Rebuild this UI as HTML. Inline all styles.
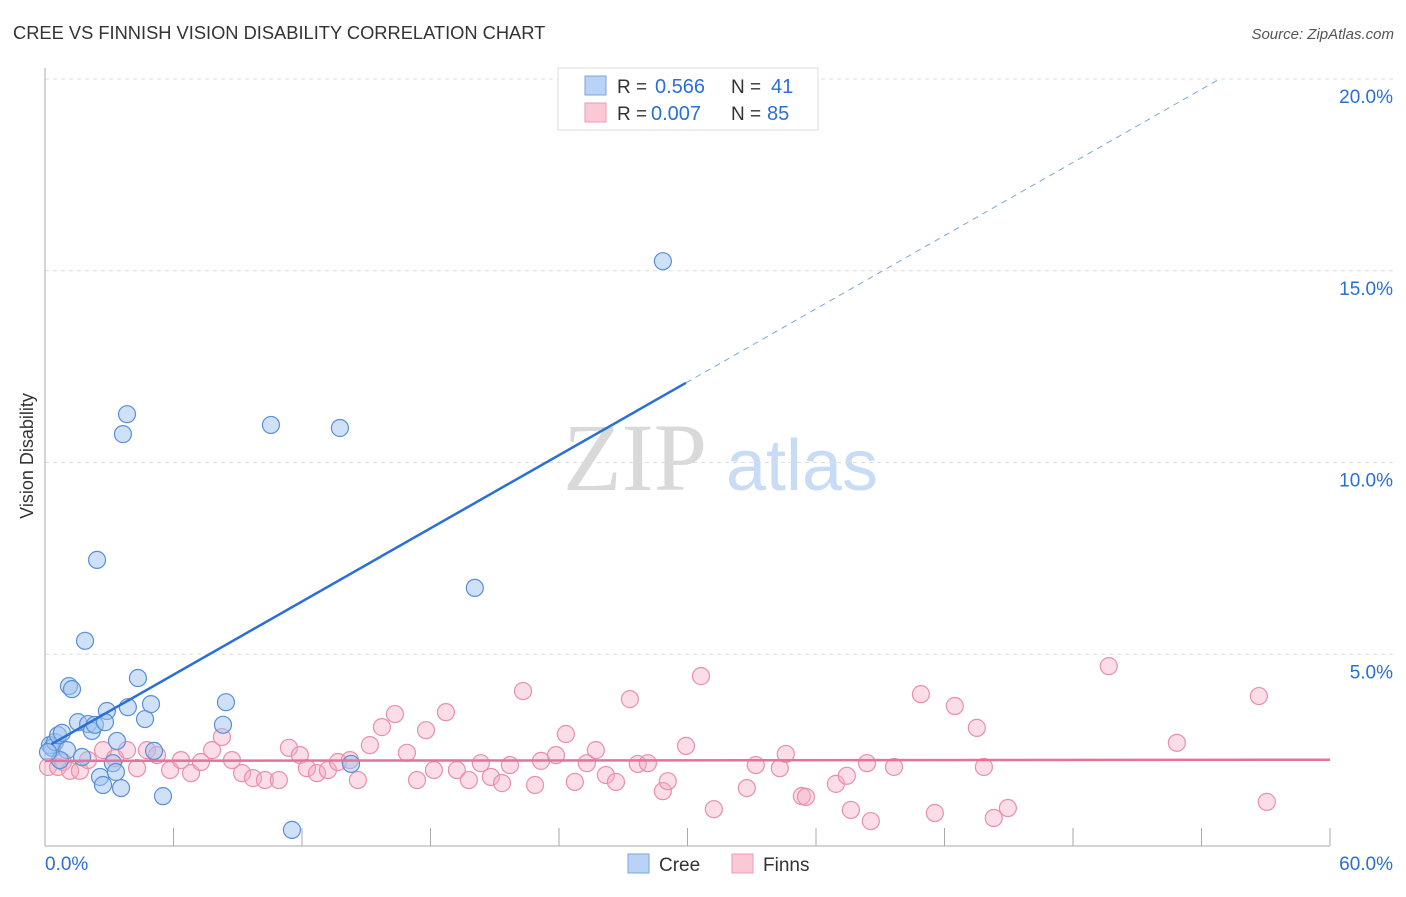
<!DOCTYPE html>
<html><head><meta charset="utf-8"><style>
body{margin:0;background:#fff;font-family:"Liberation Sans",sans-serif;}
</style></head><body>
<svg id="chart" width="1406" height="892" viewBox="0 0 1406 892" font-family="Liberation Sans, sans-serif">
<text x="13" y="39" font-size="18.3" fill="#333">CREE VS FINNISH VISION DISABILITY CORRELATION CHART</text>
<text x="1394" y="39" font-size="15" fill="#555" text-anchor="end" font-style="italic">Source: ZipAtlas.com</text>
<text transform="translate(33,456) rotate(-90)" font-size="18" fill="#333" text-anchor="middle">Vision Disability</text>
<g>
<text x="635" y="490" font-size="96" fill="#d9d9d9" text-anchor="middle" style="font-family:'Liberation Serif',serif">ZIP</text>
<text x="802" y="490" font-size="72" fill="#c8dcf5" text-anchor="middle">atlas</text>
</g>
<g id="grid"></g>
<g id="axes"></g>
<g id="marks"></g>
<g>
<rect x="558" y="68" width="260" height="62" fill="#fff" stroke="#ddd"/>
<rect x="585" y="76" width="21" height="19" fill="#b8d3f5" stroke="#7aa6e0"/>
<text x="617" y="93" font-size="19" fill="#333">R =</text><text x="655" y="93" font-size="20" fill="#2a6fd6">0.566</text>
<text x="731" y="93" font-size="19" fill="#333">N =</text><text x="771" y="93" font-size="20" fill="#2a6fd6">41</text>
<rect x="585" y="103" width="21" height="19" fill="#fbc8d6" stroke="#ee9ab4"/>
<text x="617" y="120" font-size="19" fill="#333">R =</text><text x="651" y="120" font-size="20" fill="#2a6fd6">0.007</text>
<text x="731" y="120" font-size="19" fill="#333">N =</text><text x="767" y="120" font-size="20" fill="#2a6fd6">85</text>
</g>
<g>
<rect x="628" y="854" width="21" height="19" fill="#b8d3f5" stroke="#7aa6e0"/>
<text x="659" y="871" font-size="19" fill="#333">Cree</text>
<rect x="732" y="854" width="21" height="19" fill="#fbc8d6" stroke="#ee9ab4"/>
<text x="763" y="871" font-size="19" fill="#333">Finns</text>
</g>
</svg>
<script>
const yTicks=[5,10,15,20];
const yTickLabels=["5.0%","10.0%","15.0%","20.0%"];
const xTicks=[0,6,12,18,24,30,36,42,48,54,60];
const xEndLabels=["0.0%","60.0%"];
const creeX=[0.23,0.33,0.47,0.61,0.79,1.03,1.12,1.26,1.54,1.73,1.87,2.01,2.19,2.33,2.43,2.57,2.71,2.89,2.80,3.17,3.36,3.31,3.55,3.64,3.83,3.87,4.34,4.67,4.95,5.09,5.51,8.31,8.45,10.55,11.53,13.77,14.29,20.07,28.85,0.70,0.14];
const creeY=[2.63,2.56,2.71,2.89,2.95,2.50,4.17,4.09,3.23,2.32,5.35,3.18,3.00,3.16,7.46,1.80,1.59,3.52,3.23,2.16,2.74,1.93,1.51,10.74,11.26,3.62,4.38,3.31,3.70,2.48,1.30,3.16,3.75,10.98,0.42,10.90,2.14,6.73,15.25,2.24,2.45];
const finnX=[0.14,0.61,0.84,1.17,1.63,2.01,2.71,3.27,3.83,4.30,4.76,5.23,5.84,6.35,6.82,7.28,7.80,8.26,8.73,9.20,9.71,10.27,10.92,11.39,11.90,12.23,12.70,13.21,13.68,14.24,14.61,15.17,15.73,16.34,16.90,17.37,17.79,18.16,18.72,19.23,19.79,20.35,20.82,21.34,21.71,22.32,22.88,23.16,23.86,24.32,24.74,25.30,25.72,26.19,26.66,27.31,27.68,28.15,28.85,29.08,29.93,30.63,31.23,32.77,33.19,34.31,34.59,35.34,35.53,36.93,37.44,37.63,38.38,38.56,39.64,40.90,41.55,42.48,43.51,43.84,44.30,44.96,49.67,52.85,56.68,57.05];
const finnY=[2.06,2.06,2.19,1.96,1.96,2.24,2.50,2.29,2.50,2.03,2.50,2.37,1.98,2.24,1.90,2.19,2.50,2.84,2.24,1.90,1.77,1.72,1.72,2.56,2.37,2.03,1.90,1.98,2.19,2.24,1.72,2.63,3.10,3.44,2.43,1.72,3.02,1.98,3.49,1.98,1.72,2.16,1.80,1.64,2.11,4.04,1.59,2.22,2.37,2.92,1.67,2.16,2.50,1.85,1.67,3.83,2.14,2.16,1.43,1.69,2.61,4.43,0.96,1.51,2.11,2.03,2.40,1.30,1.28,1.62,1.83,0.94,2.16,0.65,2.06,3.96,0.86,3.65,3.08,2.06,0.73,0.99,4.69,2.69,3.91,1.15];
const creeFit=[2.56,0.318];
const finnFit=[2.22,0.0005];
const NS="http://www.w3.org/2000/svg";
const X0=45,X1=1330,Y0=846,Y1=79;
const sx=v=>X0+(v/60)*(X1-X0);
const sy=v=>Y0-(v/20)*(Y0-Y1);
function mk(t,a,p){const e=document.createElementNS(NS,t);for(const k in a)e.setAttribute(k,a[k]);p.appendChild(e);return e;}
const grid=document.getElementById('grid'),axes=document.getElementById('axes'),marks=document.getElementById('marks');
yTicks.forEach((v,i)=>{
 const l=mk('line',{x1:X0,x2:1394,y1:sy(v),y2:sy(v),stroke:'#ddd','stroke-dasharray':'4,4'},grid);
 
 
 const t=mk('text',{x:1393,y:sy(v)+24,'font-size':19,fill:'#2a6fd6','text-anchor':'end'},axes);
 t.textContent=yTickLabels[i];
 
 
});
const ax=mk('line',{x1:X0,x2:X0,y1:68,y2:Y0,stroke:'#aaa'},axes);


const bx=mk('line',{x1:X0,x2:X1,y1:Y0,y2:Y0,stroke:'#aaa'},axes);


xTicks.forEach(v=>{
 const t=mk('line',{x1:sx(v),x2:sx(v),y1:828,y2:Y0,stroke:'#aaa'},axes);
 
 
});
const xl=mk('text',{x:45,y:870,'font-size':19,fill:'#2a6fd6'},axes);xl.textContent=xEndLabels[0];


const xr=mk('text',{x:1393,y:870,'font-size':19,fill:'#2a6fd6','text-anchor':'end'},axes);xr.textContent=xEndLabels[1];


finnX.forEach((x,i)=>{
 const c=mk('circle',{cx:sx(x),cy:sy(finnY[i]),r:8.5,fill:'rgba(245,170,195,0.4)',stroke:'#e98fab','stroke-width':1.2},marks);
 
 
});
creeX.forEach((x,i)=>{
 const c=mk('circle',{cx:sx(x),cy:sy(creeY[i]),r:8.5,fill:'rgba(160,196,240,0.5)',stroke:'#5a8fd8','stroke-width':1.2},marks);
 
 
});
const fy=x=>finnFit[0]+finnFit[1]*x;
const fl=mk('line',{x1:sx(0),y1:sy(fy(0)),x2:sx(60),y2:sy(fy(60)),stroke:'#e8709a','stroke-width':2.5},marks);


const cy=x=>creeFit[0]+creeFit[1]*x;
const xEnd=29.93,xDash=(20-creeFit[0])/creeFit[1];
const cl=mk('line',{x1:sx(0.3),y1:sy(cy(0.3)),x2:sx(xEnd),y2:sy(cy(xEnd)),stroke:'#2a6fd6','stroke-width':2.5},marks);


const cd=mk('line',{x1:sx(xEnd),y1:sy(cy(xEnd)),x2:sx(xDash),y2:sy(cy(xDash)),stroke:'#7aa6e0','stroke-width':1,'stroke-dasharray':'6,5'},marks);


</script>
</body></html>
